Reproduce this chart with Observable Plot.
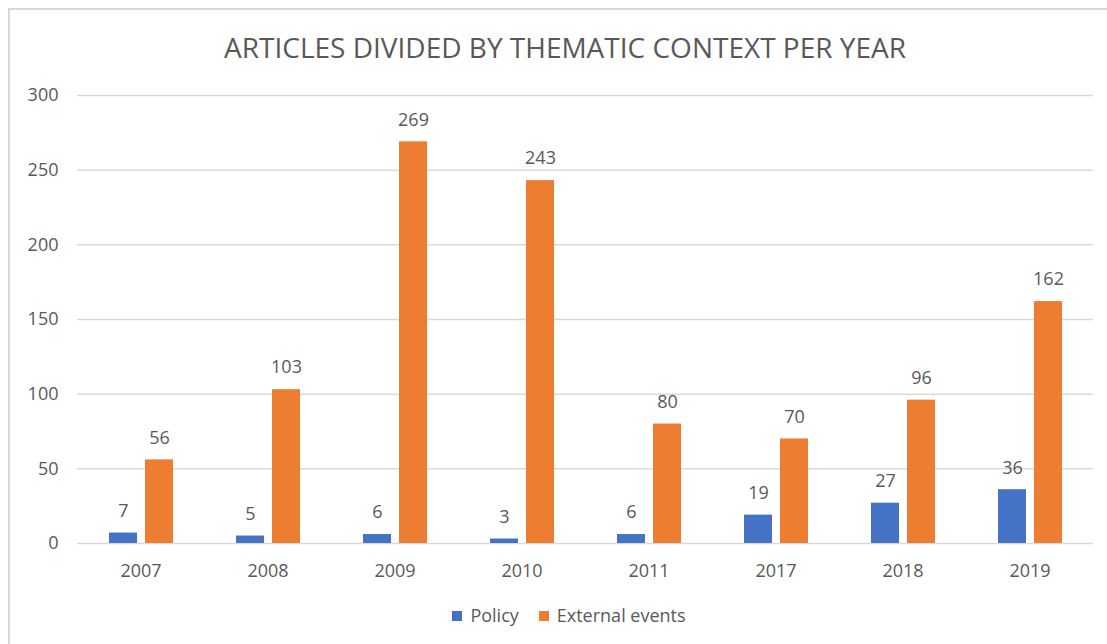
<!DOCTYPE html>
<html>
<head>
<meta charset="utf-8">
<script src="https://cdn.jsdelivr.net/npm/d3@7"></script>
<script src="https://cdn.jsdelivr.net/npm/@observablehq/plot@0.6"></script>
<style>
  html, body { margin: 0; padding: 0; background: #fff; width: 1107px; height: 644px; overflow: hidden; }
  #frame { position: absolute; left: 8px; top: 8px; width: 1200px; height: 800px; border-left: 2px solid #d9d9d9; border-top: 2px solid #d9d9d9; box-sizing: border-box; }
  #title { position: absolute; left: 0; width: 1130px; top: 28px; text-align: center; font-family: "Open Sans", sans-serif; font-size: 28px; color: #595959; white-space: nowrap; }
  #chart { position: absolute; left: 0; top: 0; }
  #legend { position: absolute; left: 0; width: 1138px; top: 603px; text-align: center; font-family: "Open Sans", sans-serif; font-size: 18px; color: #595959; white-space: nowrap; }
  .sw { display: inline-block; width: 10px; height: 10px; margin-right: 8px; vertical-align: 1px; }
  .item { display: inline-block; margin: 0 10px; }
</style>
</head>
<body>
<div id="frame"></div>
<div id="title">ARTICLES DIVIDED BY THEMATIC CONTEXT PER YEAR</div>
<div id="chart"></div>
<div id="legend"></div>
<script>
const years = ["2007", "2008", "2009", "2010", "2011", "2017", "2018", "2019"];
const seriesNames = ["Policy", "External events"];
const policy = [7, 5, 6, 3, 6, 19, 27, 36];
const external = [56, 103, 269, 243, 80, 70, 96, 162];
const colors = ["#4472C4", "#ED7D31"];
const yTicks = [0, 50, 100, 150, 200, 250, 300];

const data = [];
years.forEach((y, i) => {
  data.push({year: y, series: seriesNames[0], value: policy[i]});
  data.push({year: y, series: seriesNames[1], value: external[i]});
});

const font = "'Open Sans', sans-serif";
const plot = Plot.plot({
  width: 1107,
  height: 644,
  marginLeft: 76,
  marginRight: 13,
  marginTop: 95,
  marginBottom: 101,
  style: {fontFamily: font, fontSize: "18px", color: "#595959", background: "transparent"},
  fx: {domain: years, padding: 0, label: null, tickSize: 0, tickPadding: 21, axis: "bottom"},
  x: {domain: seriesNames, paddingInner: 0.23, paddingOuter: 0.84, axis: null},
  y: {domain: [0, 300], ticks: yTicks, label: null},
  color: {domain: seriesNames, range: colors},
  marks: [
    Plot.gridY(yTicks, {stroke: "#d9d9d9", strokeOpacity: 1, strokeWidth: 1.5, facetAnchor: null}),
    Plot.axisY(yTicks, {tickSize: 0, tickPadding: 19, label: null, fontSize: 18, fill: "#595959"}),
    Plot.barY(data, {fx: "year", x: "series", y: "value", fill: "series"}),
    Plot.text(data, {fx: "year", x: "series", y: "value", text: d => String(d.value), dy: -22, fontSize: 18, fill: "#595959"})
  ]
});
document.getElementById("chart").appendChild(plot);

const legend = document.getElementById("legend");
seriesNames.forEach((s, i) => {
  const item = document.createElement("span");
  item.className = "item";
  const sw = document.createElement("span");
  sw.className = "sw";
  sw.style.background = colors[i];
  item.appendChild(sw);
  item.appendChild(document.createTextNode(s));
  legend.appendChild(item);
});
</script>
</body>
</html>
